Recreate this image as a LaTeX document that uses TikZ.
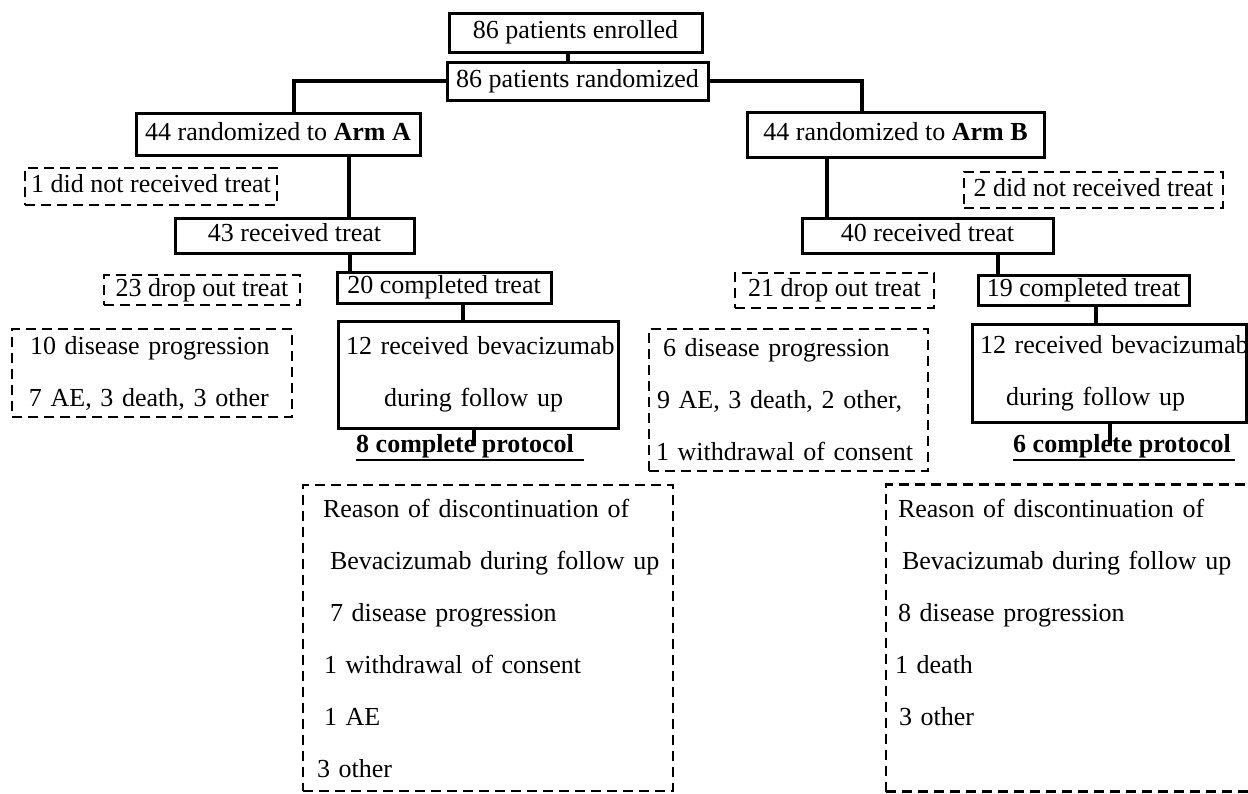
\documentclass[tikz,border=0pt]{standalone}
\usepackage{fontspec}
\setmainfont{Liberation Serif}
\begin{document}
\begin{tikzpicture}[x=1pt,y=-1pt,
  txt/.style={font=\fontsize{26}{31}\selectfont, inner sep=0pt, text height=18pt, text depth=6pt},
  sbox/.style={txt, draw, line width=3pt},
  dbox/.style={txt, draw, line width=2.5pt, dash pattern=on 10pt off 6pt},
  mtext/.style={font=\fontsize{26}{52}\selectfont, inner sep=0pt, align=left},
  smbox/.style={mtext, draw, line width=3pt},
  dmbox/.style={mtext, draw, line width=2.5pt, dash pattern=on 10pt off 6pt},
  link/.style={line width=4pt},
  proto/.style={font=\fontsize{26}{31}\selectfont\bfseries, inner sep=0pt, anchor=base, text height=18pt, text depth=6pt},
  uline/.style={line width=2.5pt}
]
\useasboundingbox (0,0) rectangle (1248,793);
\clip (0,0) rectangle (1248,793);

\node[sbox, minimum width=253pt, minimum height=39pt] (enr) at (575.5,32.5) {86 patients enrolled};
\node[sbox, minimum width=261pt, minimum height=38pt] (rand) at (577.5,81) {86 patients randomized};
\node[sbox, minimum width=284pt, minimum height=42pt] (armA) at (278,134) {44 randomized to \textbf{Arm A}};
\node[sbox, minimum width=297pt, minimum height=45pt] (armB) at (895.5,134.5) {44 randomized to \textbf{Arm B}};
\node[dbox, minimum width=252pt, minimum height=37pt] (nrA) at (151,186.5) {1 did not received treat};
\node[dbox, minimum width=259pt, minimum height=36pt] (nrB) at (1093.5,190) {2 did not received treat};
\node[sbox, minimum width=239pt, minimum height=35pt] (recA) at (294.5,235.5) {43 received treat};
\node[sbox, minimum width=251pt, minimum height=35pt] (recB) at (927.5,235.5) {40 received treat};
\node[dbox, minimum width=196pt, minimum height=30pt] (dropA) at (202,290) {23 drop out treat};
\node[sbox, minimum width=214pt, minimum height=31pt] (compA) at (444,287.5) {20 completed treat};
\node[dbox, minimum width=199pt, minimum height=35pt] (dropB) at (834.5,290.5) {21 drop out treat};
\node[sbox, minimum width=211pt, minimum height=30pt] (compB) at (1083.5,290) {19 completed treat};

\node[dmbox, text width=280pt, minimum height=88pt] (disA) at (152,373)
  {\hspace*{18pt}10 disease progression\\\hspace*{17pt}7 AE, 3 death, 3 other};
\node[smbox, text width=280pt, minimum height=107pt] (bevA) at (478,374.5)
  {\hspace*{8pt}\mbox{12 received bevacizumab}\\\hspace*{46pt}during follow up};
\node[dmbox, text width=279pt, minimum height=142pt] (dis6) at (788.5,400)
  {\hspace*{14pt}6 disease progression\\\hspace*{8pt}9 AE, 3 death, 2 other,\\\hspace*{7pt}\mbox{1 withdrawal of consent}};
\node[smbox, text width=274pt, minimum height=98pt] (bevB) at (1109,373)
  {\hspace*{8pt}\makebox[250pt][l]{12 received bevacizumab}\\\hspace*{34pt}during follow up};

\node[proto] (p8) at (465,452) {8 complete protocol};
\node[proto] (p6) at (1122,452) {6 complete protocol};

\node[dmbox, text width=370pt, minimum height=306pt] (rsA) at (488,638)
  {\hspace*{20pt}Reason of discontinuation of\\\hspace*{27pt}\mbox{Bevacizumab during follow up}\\\hspace*{27pt}7 disease progression\\\hspace*{21pt}1 withdrawal of consent\\\hspace*{21pt}1 AE\\\hspace*{14pt}3 other};
\node[dmbox, text width=434pt, minimum height=307pt] (rsB) at (1103,638)
  {\hspace*{12pt}Reason of discontinuation of\\\hspace*{16pt}Bevacizumab during follow up\\\hspace*{12pt}8 disease progression\\\hspace*{9pt}1 death\\\hspace*{13pt}3 other\\\mbox{}};

\draw[link] ([xshift=-7.5pt]enr.south) -- ([xshift=-7.5pt]enr.south |- rand.north);
\draw[link] (rand.west) -| ([xshift=16pt]armA.north);
\draw[link] (rand.east) -| ([xshift=-33.5pt]armB.north);
\draw[link] ([xshift=71pt]armA.south) -- ([xshift=71pt]armA.south |- recA.north);
\draw[link] ([xshift=-68.5pt]armB.south) -- ([xshift=-68.5pt]armB.south |- recB.north);
\draw[link] ([xshift=55.5pt]recA.south) -- ([xshift=55.5pt]recA.south |- compA.north);
\draw[link] ([xshift=70.5pt]recB.south) -- ([xshift=70.5pt]recB.south |- compB.north);
\draw[link] ([xshift=19pt]compA.south) -- ([xshift=19pt]compA.south |- bevA.north);
\draw[link] ([xshift=12.5pt]compB.south) -- ([xshift=12.5pt]compB.south |- bevB.north);
\draw[link] ([xshift=-4pt]bevA.south) -- ([xshift=-4pt]bevA.south |- p8.center);
\draw[link] ([xshift=1pt]bevB.south) -- ([xshift=1pt]bevB.south |- p6.center);
\draw[uline] ([yshift=-8pt]p8.base west) -- ([yshift=-8pt,xshift=10pt]p8.base east);
\draw[uline] ([yshift=-8pt]p6.base west) -- ([yshift=-8pt,xshift=4pt]p6.base east);
\end{tikzpicture}
\end{document}
